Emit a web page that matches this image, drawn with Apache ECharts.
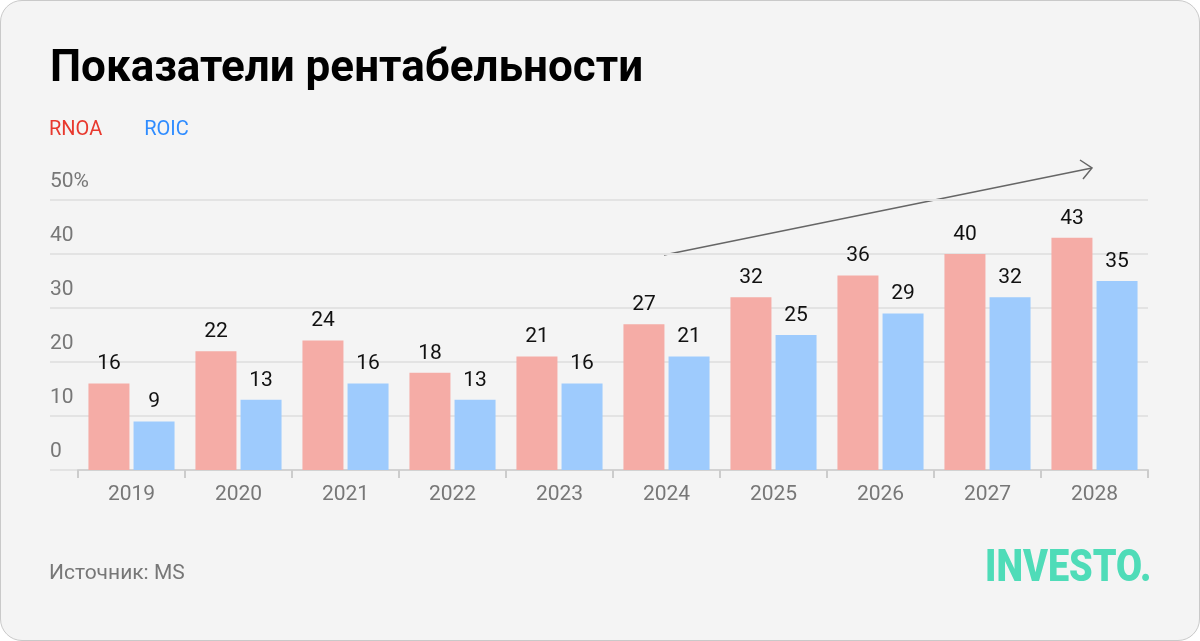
<!DOCTYPE html>
<html>
<head>
<meta charset="utf-8">
<script src="https://cdn.jsdelivr.net/npm/echarts@6/dist/echarts.min.js"></script>
<style>
html,body{margin:0;padding:0;background:#ffffff;}
#card{position:absolute;left:0;top:0;width:1200px;height:641px;box-sizing:border-box;border:1px solid #c9c9c9;border-radius:22px;background:#f4f4f4;overflow:hidden;}
#chart{width:1198px;height:639px;}
</style>
</head>
<body>
<div id="card"><div id="chart"></div></div>
<script>
const categories = ['2019','2020','2021','2022','2023','2024','2025','2026','2027','2028'];
const rnoa = [16, 22, 24, 18, 21, 27, 32, 36, 40, 43];
const roic = [9, 13, 16, 13, 16, 21, 25, 29, 32, 35];
const seriesNames = ['RNOA', 'ROIC'];
const yTicks = [0, 10, 20, 30, 40, 50];
const titleText = 'Показатели рентабельности';
const sourceText = 'Источник: MS';
const logoText = 'INVESTO.';

const chart = echarts.init(document.getElementById('chart'), null, {renderer: 'canvas'});
const FONT = 'Roboto';
const gridTop = 199, gridHeight = 270;

const option = {
  backgroundColor: 'transparent',
  animation: false,
  textStyle: {fontFamily: FONT},
  title: {
    text: titleText, left: 44, top: 42,
    textStyle: {fontFamily: FONT, fontSize: 44, fontWeight: 'bold', color: '#000'}
  },
  legend: {
    left: 38, top: 114, itemWidth: 0, itemHeight: 0, itemGap: 37, icon: 'rect',
    selectedMode: false,
    data: [
      {name: seriesNames[0], textStyle: {color: '#e8392e'}},
      {name: seriesNames[1], textStyle: {color: '#2f8cff'}}
    ],
    textStyle: {fontFamily: FONT, fontSize: 20}
  },
  grid: [
    {left: 49, right: 51, top: gridTop, height: gridHeight},
    {left: 77, right: 51, top: gridTop, height: gridHeight}
  ],
  xAxis: [
    {gridIndex: 0, type: 'value', show: false, min: 0, max: 1},
    {gridIndex: 1, type: 'category', data: categories,
     axisLine: {lineStyle: {color: '#d2d2d2', width: 2}},
     axisTick: {show: true, length: 8, lineStyle: {color: '#cccccc', width: 2}},
     axisLabel: {fontFamily: FONT, fontSize: 21, color: '#777', margin: 14}}
  ],
  yAxis: [
    {gridIndex: 0, type: 'value', min: 0, max: 50, interval: 10,
     axisLine: {show: false}, axisTick: {show: false},
     splitLine: {lineStyle: {color: '#e3e3e3', width: 2}},
     axisLabel: {inside: true, margin: 0, align: 'left', verticalAlign: 'bottom',
       padding: [0, 0, 8, 0], fontFamily: FONT, fontSize: 21, color: '#777',
       formatter: v => (v === 50 ? v + '%' : String(v))}},
    {gridIndex: 1, type: 'value', min: 0, max: 50, interval: 10, show: false}
  ],
  series: [
    {name: seriesNames[0], type: 'bar', xAxisIndex: 1, yAxisIndex: 1, data: rnoa,
     barWidth: 41, barGap: '10%', itemStyle: {color: '#f5aca6'},
     label: {show: true, position: 'top', distance: 9, fontFamily: FONT, fontSize: 21, color: '#111'}},
    {name: seriesNames[1], type: 'bar', xAxisIndex: 1, yAxisIndex: 1, data: roic,
     barWidth: 41, barGap: '10%', itemStyle: {color: '#9ecbfd'},
     label: {show: true, position: 'top', distance: 9, fontFamily: FONT, fontSize: 21, color: '#111'}}
  ],
  graphic: [
    {type: 'line', shape: {x1: 663, y1: 254, x2: 1091, y2: 167},
     style: {stroke: '#666', lineWidth: 1.5}},
    {type: 'polyline', shape: {points: [[1079, 159], [1091, 167], [1082, 178]]},
     style: {stroke: '#666', lineWidth: 1.5, fill: null}},
    {type: 'text', left: 48, top: 562,
     style: {text: sourceText, fontFamily: FONT, fontSize: 21, fill: '#777'}},
    {type: 'text', x: 984, y: 569, scaleX: 0.84,
     style: {x: 0, y: 0, text: logoText, fontFamily: FONT, fontWeight: 900, fontSize: 45,
       fill: '#4fdcb8', verticalAlign: 'middle', align: 'left'}}
  ]
};
chart.setOption(option);
</script>
</body>
</html>
